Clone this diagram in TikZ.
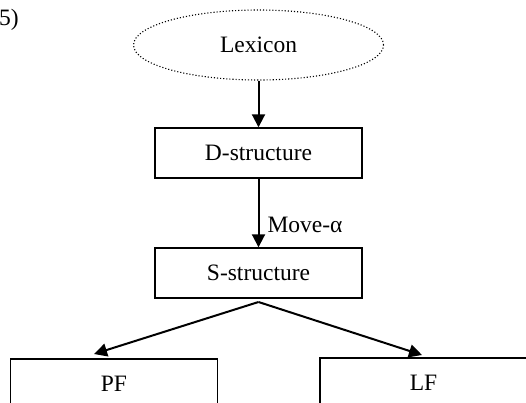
\documentclass[tikz,border=0pt]{standalone}
\usepackage{fontspec}
\setmainfont{Liberation Serif}
\usetikzlibrary{arrows.meta,shapes.geometric}
\begin{document}
\begin{tikzpicture}[x=1pt,y=-1pt,
  font=\fontsize{23.5}{27}\selectfont,
  box/.style={draw,line width=1.4pt,rectangle,minimum width=207pt,minimum height=50pt,inner sep=0pt},
  arr/.style={line width=2pt,-{Triangle[length=13pt,width=13pt]}}]
\useasboundingbox (0,0) rectangle (526,403);
\begin{scope}
\clip (0,0) rectangle (526,403);
\node[draw,dotted,line width=1.1pt,ellipse,minimum width=250pt,minimum height=70pt,inner sep=0pt] (lex) at (258.5,45) {Lexicon};
\node[box] (d) at (258.5,153) {D-structure};
\node[box] (s) at (258.5,273) {S-structure};
\node[box] (pf) at (114,384) {PF};
\node[box] (lf) at (423.5,383) {LF};
\node[anchor=west,inner sep=0pt] (lab) at (-1,20) {5)};
\coordinate (apex) at (258.5,302);
\coordinate (pfin) at (94,354);
\coordinate (lfin) at (422,355);
\draw[arr] (lex.south) -- (d.north);
\draw[arr] (d.south) -- node[pos=0.67,right=8pt,inner sep=0pt] (mv) {Move-α} (s.north);
\draw[arr] (apex) -- (pfin);
\draw[arr] (apex) -- (lfin);
\end{scope}
\end{tikzpicture}
\end{document}
